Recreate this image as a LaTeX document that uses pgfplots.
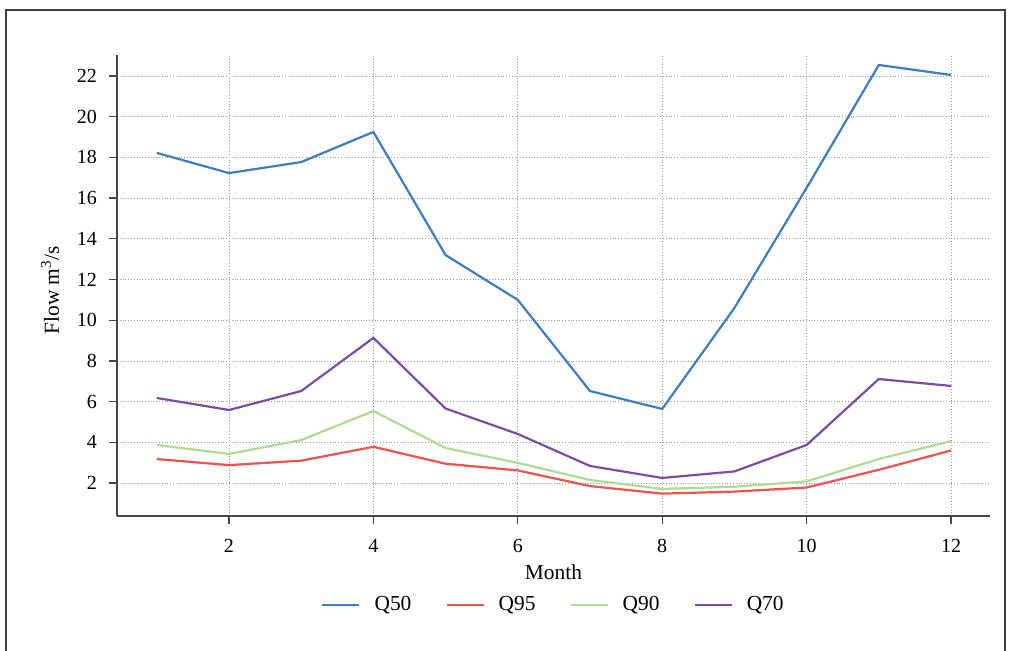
\documentclass[border=0pt]{standalone}
\usepackage{pgfplots}
\pgfplotsset{compat=1.18}
\usepackage{fontspec}
\setmainfont{Liberation Serif}
\definecolor{cQfifty}{RGB}{62,124,196}
\definecolor{cQninetyfive}{RGB}{239,83,80}
\definecolor{cQninety}{RGB}{178,218,146}
\definecolor{cQseventy}{RGB}{123,78,163}
\definecolor{axgray}{RGB}{70,70,70}
\begin{document}
\begin{tikzpicture}
\useasboundingbox (-58.5pt,-67pt) rectangle (447pt,258pt);
\clip (-58.5pt,-67pt) rectangle (447pt,258pt);
\draw[line width=1.3pt, color=black!75] (-55.5pt,-90pt) -- (-55.5pt,253pt) -- (444pt,253pt) -- (444pt,-90pt);
\begin{axis}[
  at={(0pt,0pt)}, anchor=origin,
  scale only axis, width=436.5pt, height=230.5pt,
  xmin=0.449, xmax=12.54, ymin=0.38, ymax=23.03,
  axis x line*=bottom, axis y line*=left,
  axis line style={axgray, line width=0.6pt, -},
  xtick={2,4,...,12}, ytick={2,4,...,22},
  tick align=outside, major tick length=4pt,
  tick style={axgray, line width=0.6pt},
  grid=major, major grid style={densely dotted, gray!80, line width=0.4pt},
  ticklabel style={font=\fontsize{10}{12}\selectfont},
  xticklabel style={yshift=-4pt},
  yticklabel style={xshift=-2.5pt},
  /pgf/number format/assume math mode=true,
  xlabel={Month}, ylabel={Flow m\textsuperscript{3}/s},
  label style={font=\fontsize{10.7}{12}\selectfont},
  xlabel style={at={(axis description cs:0.5,-0.1215)}, anchor=center},
  ylabel style={at={(axis description cs:-0.0767,0.49)}, anchor=center},
  legend columns=4,
  legend style={draw=none, fill=none, at={(0.5,-0.193)}, anchor=center, xshift=3pt, font=\fontsize{10.7}{12}\selectfont,
    /tikz/every even column/.append style={column sep=10pt},
    nodes={inner xsep=7pt}},
  legend image post style={line width=1.1pt},
  legend image code/.code={\draw[#1] (0pt,0pt) -- (18.5pt,0pt);},
  every axis plot/.append style={line width=1.1pt, mark=none},
]
\addplot[color=cQfifty] coordinates {(1,18.22) (2,17.23) (3,17.77) (4,19.25) (5,13.2) (6,11.0) (7,6.52) (8,5.64) (9,10.6) (10,16.5) (11,22.54) (12,22.05)};
\addlegendentry{Q50}
\addplot[color=cQninetyfive] coordinates {(1,3.18) (2,2.88) (3,3.1) (4,3.78) (5,2.95) (6,2.62) (7,1.85) (8,1.48) (9,1.58) (10,1.78) (11,2.65) (12,3.6)};
\addlegendentry{Q95}
\addplot[color=cQninety] coordinates {(1,3.87) (2,3.43) (3,4.11) (4,5.54) (5,3.72) (6,2.99) (7,2.15) (8,1.71) (9,1.82) (10,2.08) (11,3.18) (12,4.06)};
\addlegendentry{Q90}
\addplot[color=cQseventy] coordinates {(1,6.18) (2,5.59) (3,6.52) (4,9.13) (5,5.66) (6,4.41) (7,2.84) (8,2.25) (9,2.57) (10,3.87) (11,7.11) (12,6.77)};
\addlegendentry{Q70}
\end{axis}
\end{tikzpicture}
\end{document}
